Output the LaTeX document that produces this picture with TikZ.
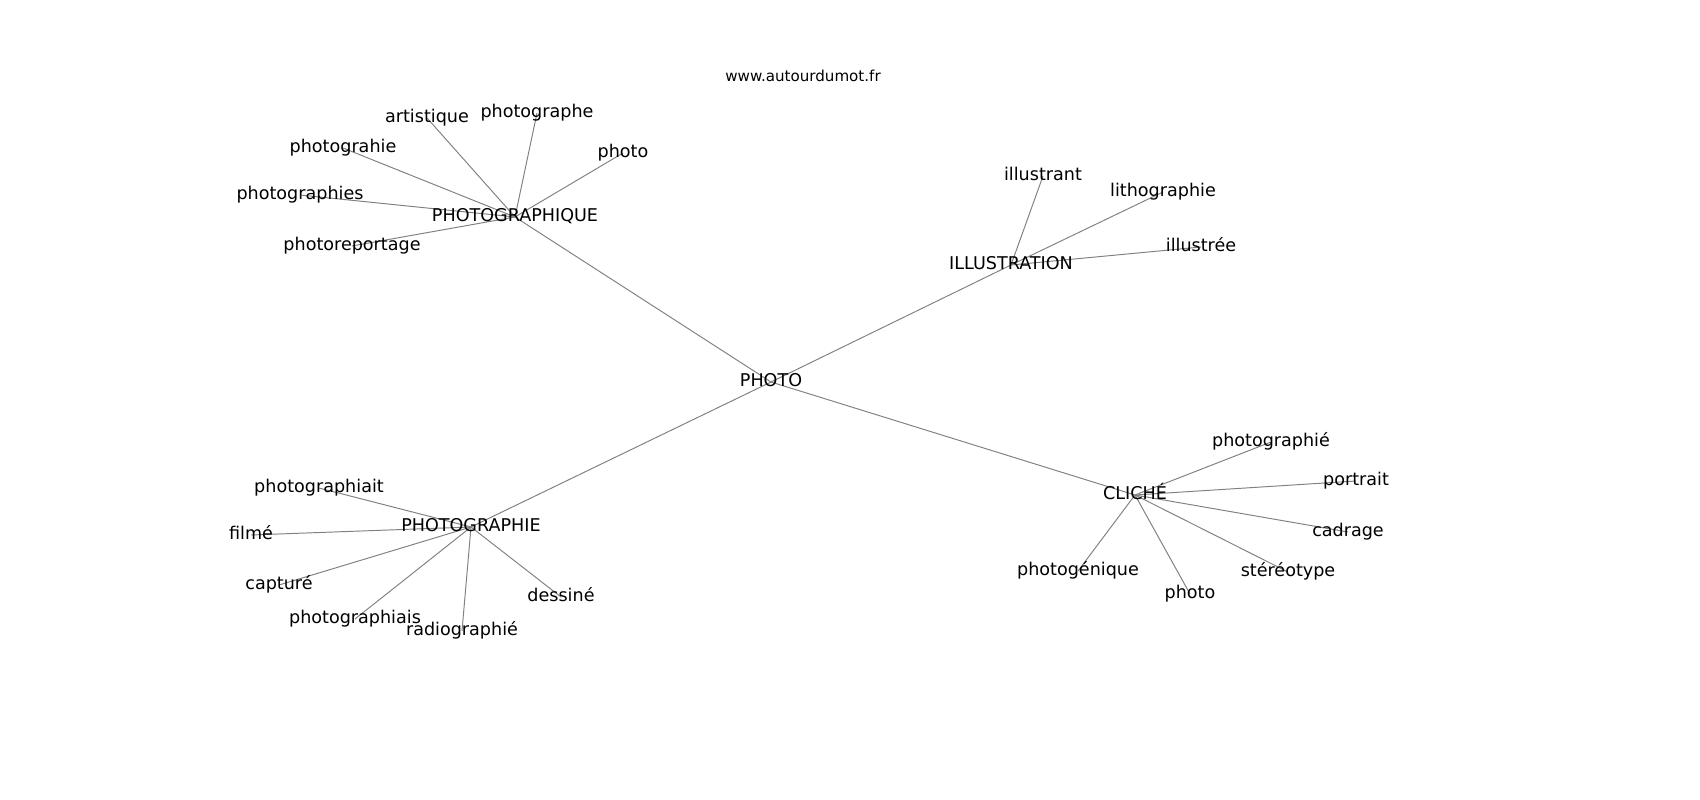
\documentclass[tikz,border=0pt]{standalone}
\usepackage{fontspec}
\setmainfont{DejaVu Sans}
\pgfdeclarelayer{background}
\pgfsetlayers{background,main}

\begin{document}
\begin{tikzpicture}[x=0.02cm, y=-0.02cm,
    word/.style={inner sep=0pt, text height=0.76em, text depth=0.24em,
      font=\fontsize{10}{12}\selectfont},
    link/.style={gray, line width=0.55pt}]
    \useasboundingbox (0,0) rectangle (1700,800);
    \node[font=\fontsize{8.6}{10}\selectfont] (site) at (803,76) {www.autourdumot.fr};

    % the middle word and its four neighbours
    \node[word] (photo)   at (771,382)  {PHOTO};
    \node[word] (graphq)  at (515,217)  {PHOTOGRAPHIQUE};
    \node[word] (illus)   at (1011,265) {ILLUSTRATION};
    \node[word] (graphie) at (471,527)  {PHOTOGRAPHIE};
    \node[word] (cliche)  at (1135,495) {CLICHÉ};

    % the outer words
    \foreach \name/\x/\y/\txt in {
        qartist/427/118/artistique, qgraphe/537/113/photographe,
        qphoto/623/153/photo, qgrahie/343/148/photograhie,
        qgraphies/300/195/photographies, qreport/352/246/photoreportage,
        iillustrant/1043/176/illustrant, ilitho/1163/192/lithographie,
        iillustree/1201/247/illustrée,
        cgraphie/1271/442/photographié, cportrait/1356/481/portrait,
        ccadrage/1348/532/cadrage, cstereo/1288/572/stéréotype,
        cphoto/1190/594/photo, cgenique/1078/571/photogénique,
        gphiait/319/488/photographiait, gfilme/251/535/filmé,
        gcapture/279/585/capturé, gphiais/355/619/photographiais,
        gradio/462/631/radiographié, gdessine/561/597/dessiné}
      \node[word] (\name) at (\x,\y) {\txt};

    \begin{pgfonlayer}{background}
      \foreach \a/\b in {photo/graphq, photo/illus, photo/graphie, photo/cliche,
          graphq/qartist, graphq/qgraphe, graphq/qphoto, graphq/qgrahie,
          graphq/qgraphies, graphq/qreport,
          illus/iillustrant, illus/ilitho, illus/iillustree,
          cliche/cgraphie, cliche/cportrait, cliche/ccadrage, cliche/cstereo,
          cliche/cphoto, cliche/cgenique,
          graphie/gphiait, graphie/gfilme, graphie/gcapture, graphie/gphiais,
          graphie/gradio, graphie/gdessine}
        \draw[link] (\a.center) -- (\b.center);
    \end{pgfonlayer}
\end{tikzpicture}
\end{document}
